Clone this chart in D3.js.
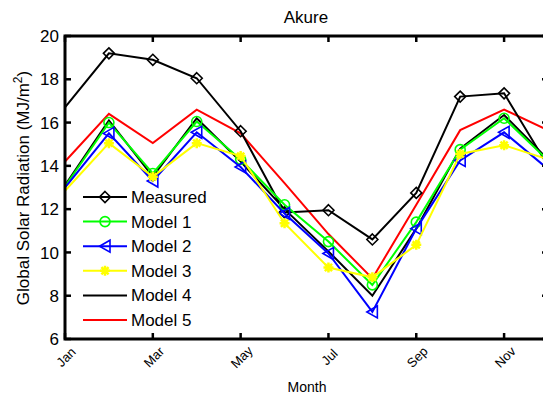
<!doctype html>
<html>
  <head>
    <meta charset="utf-8">
    <title>Akure</title>
    <script src="https://d3js.org/d3.v7.min.js"></script>
    <style type="text/css">
      body { margin: 0; background-color: #ffffff; }
      svg { display: block; font-family: "Liberation Sans", Arial, sans-serif; }
    </style>
  </head>
  <body>
    <script>
// data (MJ/m^2), months 1..12
var months = [1,2,3,4,5,6,7,8,9,10,11,12];
var tickMonths = [1,3,5,7,9,11];
var tickLabels = ["Jan","Mar","May","Jul","Sep","Nov"];
var yTicks = [6,8,10,12,14,16,18,20];

var measured = [16.7, 19.2, 18.9, 18.05, 15.6, 11.85, 11.95, 10.6, 12.75, 17.2, 17.35, 14.0];
var model1   = [13.05, 16.0, 13.65, 16.05, 14.3, 12.2, 10.5, 8.5, 11.4, 14.75, 16.2, 14.25];
var model2   = [13.0, 15.5, 13.3, 15.55, 13.95, 11.8, 9.95, 7.25, 11.1, 14.25, 15.55, 13.85];
var model3   = [12.85, 15.05, 13.5, 15.05, 14.45, 11.35, 9.3, 8.85, 10.35, 14.55, 14.95, 14.3];
var model4   = [13.1, 16.1, 13.5, 16.2, 14.2, 12.0, 10.05, 8.0, 11.1, 14.8, 16.35, 14.3];
var model5   = [14.2, 16.4, 15.05, 16.6, 15.5, 13.2, 10.85, 8.8, 12.2, 15.65, 16.6, 15.65];

var seriesNames = ["Measured","Model 1","Model 2","Model 3","Model 4","Model 5"];

// marker shapes
var markers = {
  diamond: "M0,-5.5L5.5,0L0,5.5L-5.5,0Z",
  circle: "M5,0A5,5 0 1,1 -5,0A5,5 0 1,1 5,0Z",
  triangle: "M-5.5,0L5,-6L5,6Z",
  asterisk: "M-5,0H5M0,-5V5M-3.6,-3.6L3.6,3.6M-3.6,3.6L3.6,-3.6",
  none: null
};

var series = [
  {name: seriesNames[0], values: measured, color: "#000000", marker: "diamond"},
  {name: seriesNames[1], values: model1, color: "#00ff00", marker: "circle"},
  {name: seriesNames[2], values: model2, color: "#0000ff", marker: "triangle"},
  {name: seriesNames[3], values: model3, color: "#ffff00", marker: "asterisk"},
  {name: seriesNames[4], values: model4, color: "#000000", marker: "none"},
  {name: seriesNames[5], values: model5, color: "#ff0000", marker: "none"}
];
// drawing order (bottom first)
var drawOrder = ["Model 4","Model 5","Measured","Model 1","Model 2","Model 3"];

var w = 543, h = 398;
var pLeft = 65, pRight = 548, pTop = 36, pBottom = 339;

var x = d3.scaleLinear().domain([1, 12]).range([pLeft, pRight]);
var y = d3.scaleLinear().domain([6, 20]).range([pBottom, pTop]);

var svg = d3.select("body").append("svg")
  .attr("width", w)
  .attr("height", h);

svg.append("defs").append("clipPath").attr("id", "plotclip")
  .append("rect")
  .attr("x", pLeft).attr("y", pTop)
  .attr("width", pRight - pLeft).attr("height", pBottom - pTop);

var plot = svg.append("g").attr("clip-path", "url(#plotclip)");

var line = d3.line()
  .x(function(d, i){ return x(months[i]); })
  .y(function(d){ return y(d); });

drawOrder.forEach(function(nm){
  var s = series.find(function(e){ return e.name === nm; });
  plot.append("path")
    .attr("d", line(s.values))
    .attr("fill", "none")
    .attr("stroke", s.color)
    .attr("stroke-width", 2)
    .attr("stroke-linejoin", "miter");
  if (markers[s.marker]) {
    plot.selectAll(null)
      .data(s.values.map(function(v, i){ return {m: months[i], v: v}; })
        .filter(function(d){ return d.m > 1 && d.m < 12; }))
      .enter().append("path")
      .attr("transform", function(d){ return "translate(" + x(d.m) + "," + y(d.v) + ")"; })
      .attr("d", markers[s.marker])
      .attr("fill", "none")
      .attr("stroke", s.color)
      .attr("stroke-width", s.marker === "asterisk" ? 2.5 : 1.6);
  }
});

// axes box
var axes = svg.append("g");
axes.append("path")
  .attr("d", "M" + pRight + "," + pTop + "H" + pLeft + "V" + pBottom + "H" + pRight + "V" + pTop)
  .attr("fill", "none")
  .attr("stroke", "#000")
  .attr("stroke-width", 3);

var tl = 6;
// x ticks bottom + top
tickMonths.forEach(function(m){
  axes.append("line").attr("x1", x(m)).attr("x2", x(m))
    .attr("y1", pBottom).attr("y2", pBottom - tl)
    .attr("stroke", "#000").attr("stroke-width", 2.5);
  axes.append("line").attr("x1", x(m)).attr("x2", x(m))
    .attr("y1", pTop).attr("y2", pTop + tl)
    .attr("stroke", "#000").attr("stroke-width", 2.5);
});
// y ticks left + right
yTicks.forEach(function(t){
  axes.append("line").attr("x1", pLeft).attr("x2", pLeft + tl)
    .attr("y1", y(t)).attr("y2", y(t))
    .attr("stroke", "#000").attr("stroke-width", 2.5);
  axes.append("line").attr("x1", pRight).attr("x2", pRight - tl)
    .attr("y1", y(t)).attr("y2", y(t))
    .attr("stroke", "#000").attr("stroke-width", 2.5);
});

// tick labels
svg.selectAll(".ylab").data(yTicks).enter().append("text")
  .attr("x", pLeft - 6)
  .attr("y", function(d){ return y(d); })
  .attr("dy", "0.36em")
  .attr("text-anchor", "end")
  .attr("font-size", 17)
  .text(function(d){ return d; });

svg.selectAll(".xlab").data(tickMonths).enter().append("text")
  .attr("transform", function(d){ return "translate(" + (x(d) + 1) + "," + 357 + ") rotate(-45)"; })
  .attr("dy", "0.35em")
  .attr("text-anchor", "middle")
  .attr("font-size", 13)
  .text(function(d, i){ return tickLabels[i]; });

// titles
svg.append("text")
  .attr("x", 306).attr("y", 23)
  .attr("text-anchor", "middle")
  .attr("font-size", 17)
  .text("Akure");

svg.append("text")
  .attr("x", 307).attr("y", 392)
  .attr("text-anchor", "middle")
  .attr("font-size", 14)
  .text("Month");

var yl = svg.append("text")
  .attr("transform", "translate(29,188) rotate(-90)")
  .attr("text-anchor", "middle")
  .attr("font-size", 17);
yl.append("tspan").text("Global Solar Radiation (MJ/m");
yl.append("tspan").attr("dy", -7).attr("font-size", 12).text("2");
yl.append("tspan").attr("dy", 7).text(")");

// legend (no box)
var legend = svg.append("g");
series.forEach(function(s, i){
  var ly = 197 + i * 24.6;
  legend.append("line")
    .attr("x1", 83).attr("x2", 127)
    .attr("y1", ly).attr("y2", ly)
    .attr("stroke", s.color).attr("stroke-width", 2);
  if (markers[s.marker]) {
    legend.append("path")
      .attr("transform", "translate(105," + ly + ")")
      .attr("d", markers[s.marker])
      .attr("fill", "none")
      .attr("stroke", s.color)
      .attr("stroke-width", s.marker === "asterisk" ? 2.5 : 1.6);
  }
  legend.append("text")
    .attr("x", 131).attr("y", ly + 6)
    .attr("font-size", 17)
    .text(s.name);
});
    </script>
  </body>
</html>
